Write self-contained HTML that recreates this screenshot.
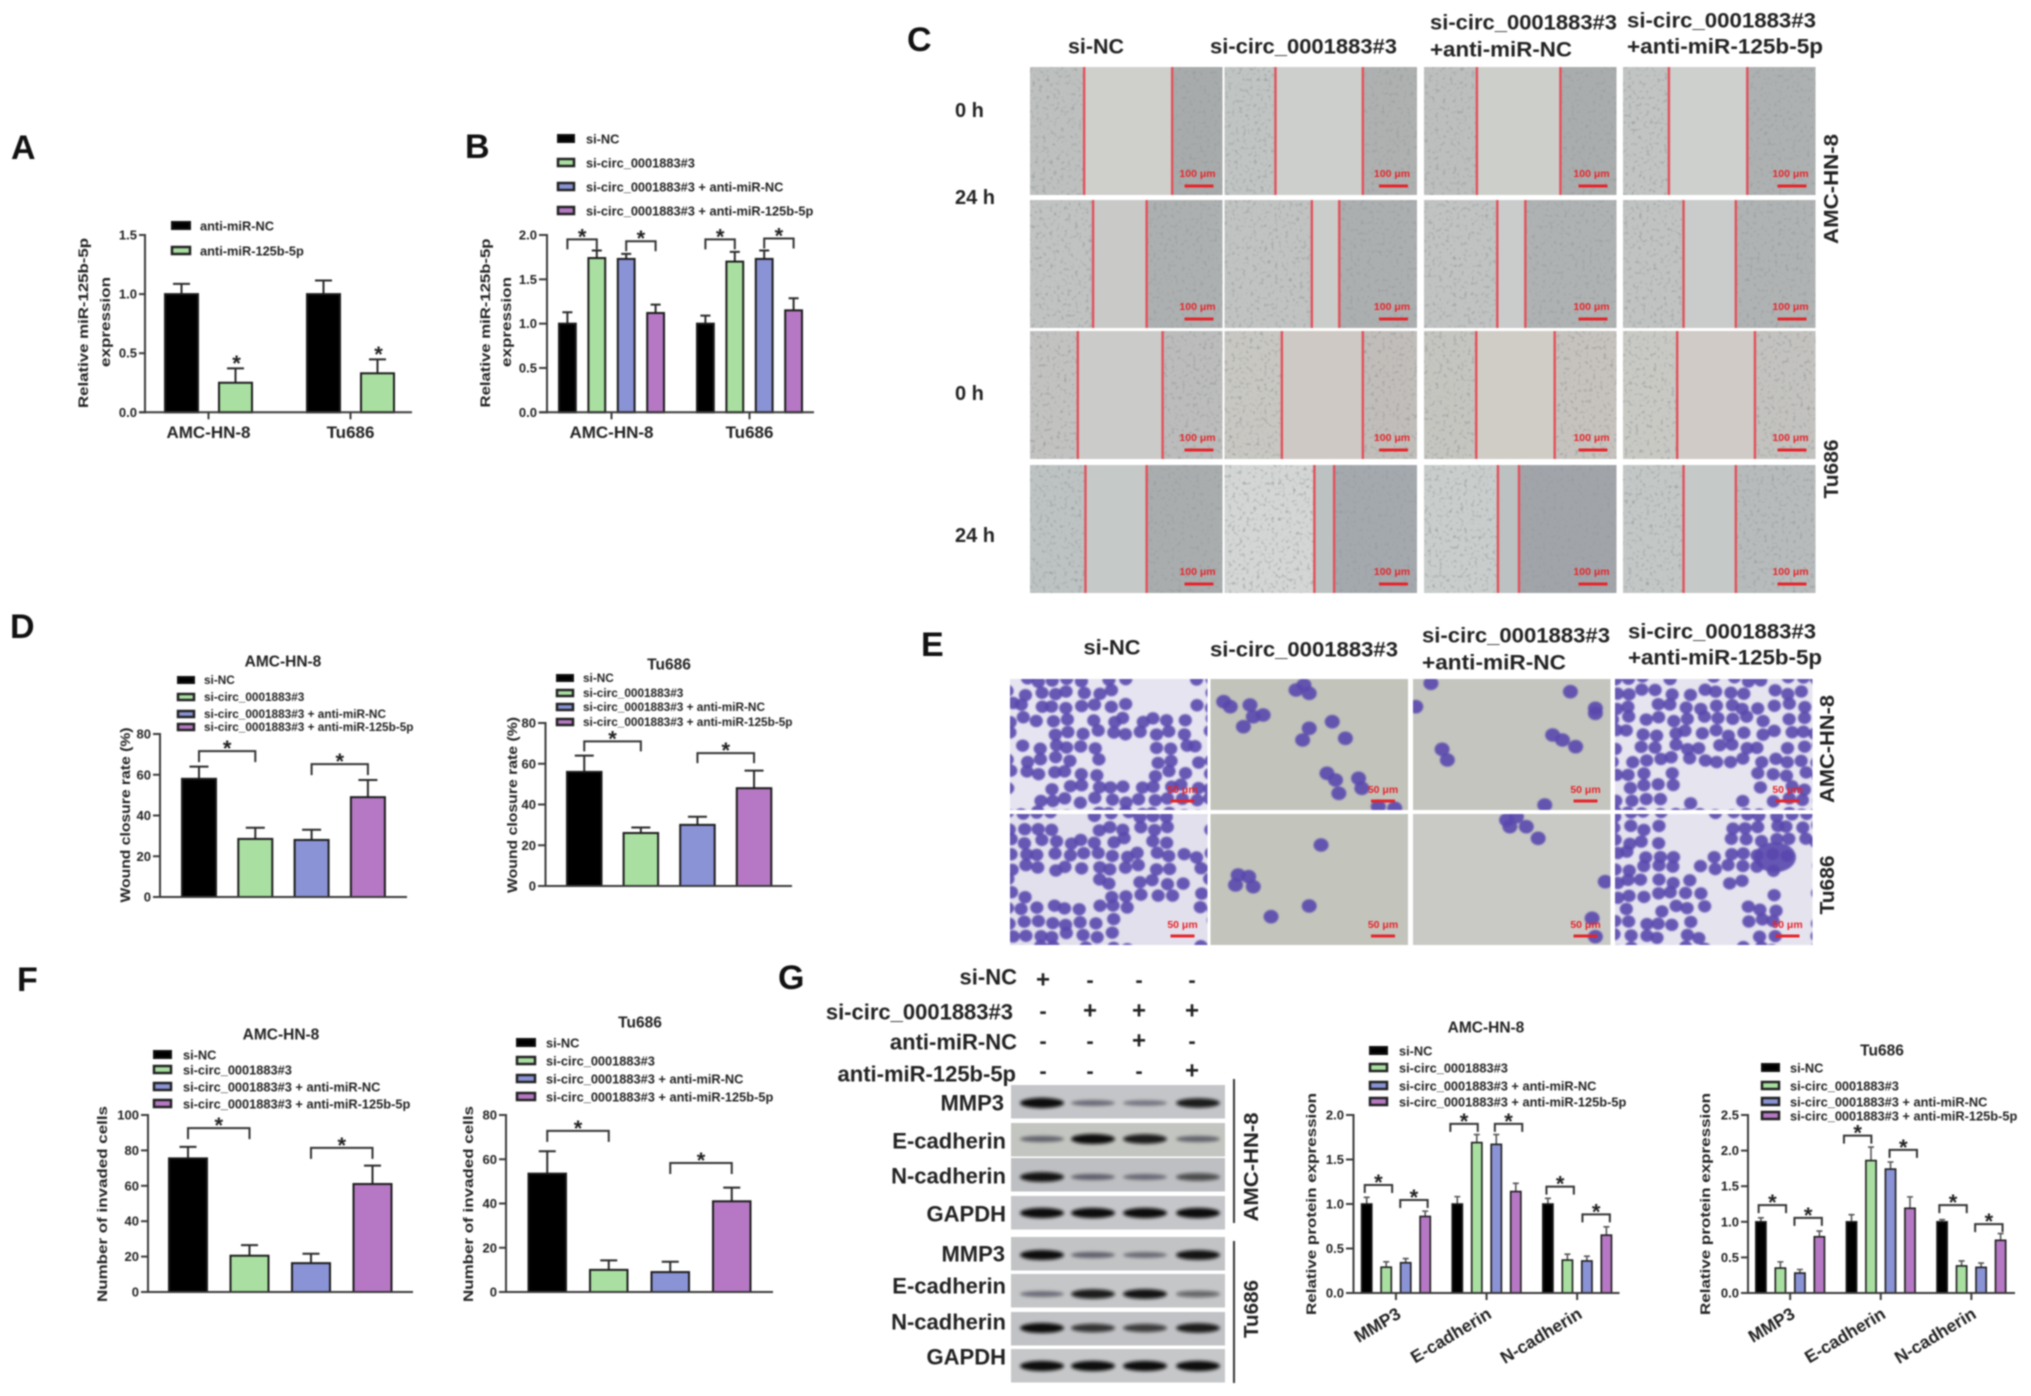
<!DOCTYPE html>
<html lang="en">
<head>
<meta charset="utf-8">
<title>Multi-panel figure: si-circ_0001883#3 and miR-125b-5p</title>
<style>
html,body{margin:0;padding:0;background:#fff}
svg#figure{display:block;filter:blur(.7px)}
text{font-family:"Liberation Sans",sans-serif;font-weight:700;fill:#222;dominant-baseline:central}
.panel{font-size:34px;fill:#111}
.head{font-size:21px}
.rowl{font-size:20px}
.side{font-size:20px}
.ytitle{font-size:14px;text-anchor:middle}
.title{font-size:15.5px;text-anchor:middle}
.l13{font-size:12.8px}
.l12{font-size:11.8px}
.blot{font-size:22px;text-anchor:end}
.s0{fill:#000;stroke:#111;stroke-width:2}
.s1{fill:#a9e0a1;stroke:#222;stroke-width:2.5}
.s2{fill:#8a93d6;stroke:#222;stroke-width:2.5}
.s3{fill:#b678c4;stroke:#222;stroke-width:2.5}
</style>
</head>
<body>
<svg id="figure" xmlns="http://www.w3.org/2000/svg" width="2031" height="1396" viewBox="0 0 2031 1396">
<defs>
<filter id="speck" x="0" y="0" width="100%" height="100%">
<feTurbulence type="fractalNoise" baseFrequency="0.28" numOctaves="2" seed="4"/>
<feColorMatrix type="matrix" values="0 0 0 0 .3  0 0 0 0 .32  0 0 0 0 .33  2.4 0 0 0 -1.3"/>
</filter>
<filter id="bandBlur" x="-20%" y="-80%" width="140%" height="260%"><feGaussianBlur stdDeviation="1.6"/></filter>
<filter id="cellBlur" x="-10%" y="-10%" width="120%" height="120%"><feGaussianBlur stdDeviation="0.9"/></filter>
</defs>
<rect width="2031" height="1396" fill="#fff"/>

<!-- panel letters -->
<text class="panel" x="11" y="148">A</text>
<text class="panel" x="465" y="147">B</text>
<text class="panel" x="907" y="40">C</text>
<text class="panel" x="10" y="627">D</text>
<text class="panel" x="921" y="645">E</text>
<text class="panel" x="17" y="980">F</text>
<text class="panel" x="778" y="978">G</text>

<!-- panel A text -->
<text class="ytitle" transform="translate(83,323) rotate(-90)" textLength="170" lengthAdjust="spacingAndGlyphs">Relative miR-125b-5p</text>
<text class="ytitle" transform="translate(105,322) rotate(-90)" textLength="90" lengthAdjust="spacingAndGlyphs">expression</text>
<g>
<rect class="s0" x="172" y="222" width="18" height="7"/>
<text class="l13" x="200" y="226">anti-miR-NC</text>
<rect class="s1" x="172" y="247" width="18" height="7"/>
<text class="l13" x="200" y="251">anti-miR-125b-5p</text>
</g>

<!-- panel B text -->
<text class="ytitle" transform="translate(485,323) rotate(-90)" textLength="169" lengthAdjust="spacingAndGlyphs">Relative miR-125b-5p</text>
<text class="ytitle" transform="translate(506,322) rotate(-90)" textLength="90" lengthAdjust="spacingAndGlyphs">expression</text>
<g>
<rect class="s0" x="558" y="135" width="16" height="7"/>
<text class="l13" x="586" y="139">si-NC</text>
<rect class="s1" x="558" y="159" width="16" height="7"/>
<text class="l13" x="586" y="163">si-circ_0001883#3</text>
<rect class="s2" x="558" y="183" width="16" height="7"/>
<text class="l13" x="586" y="187">si-circ_0001883#3 + anti-miR-NC</text>
<rect class="s3" x="558" y="207" width="16" height="7"/>
<text class="l13" x="586" y="211">si-circ_0001883#3 + anti-miR-125b-5p</text>
</g>

<!-- panel C text -->
<text class="head" x="1096" y="47" text-anchor="middle" textLength="56" lengthAdjust="spacingAndGlyphs">si-NC</text>
<text class="head" x="1210" y="47" textLength="187" lengthAdjust="spacingAndGlyphs">si-circ_0001883#3</text>
<text class="head" x="1430" y="23" textLength="187" lengthAdjust="spacingAndGlyphs">si-circ_0001883#3</text>
<text class="head" x="1430" y="50" textLength="142" lengthAdjust="spacingAndGlyphs">+anti-miR-NC</text>
<text class="head" x="1627" y="21" textLength="189" lengthAdjust="spacingAndGlyphs">si-circ_0001883#3</text>
<text class="head" x="1627" y="47" textLength="196" lengthAdjust="spacingAndGlyphs">+anti-miR-125b-5p</text>
<text class="rowl" x="955" y="111">0 h</text>
<text class="rowl" x="955" y="198">24 h</text>
<text class="rowl" x="955" y="394">0 h</text>
<text class="rowl" x="955" y="536">24 h</text>
<text class="side" text-anchor="middle" transform="translate(1832,189) rotate(-90)" textLength="110" lengthAdjust="spacingAndGlyphs">AMC-HN-8</text>
<text class="side" text-anchor="middle" transform="translate(1832,469) rotate(-90)" textLength="59" lengthAdjust="spacingAndGlyphs">Tu686</text>

<!-- panel D text -->
<text class="title" x="283" y="662">AMC-HN-8</text>
<text class="ytitle" transform="translate(125,815) rotate(-90)" textLength="175" lengthAdjust="spacingAndGlyphs">Wound closure rate (%)</text>
<g>
<rect class="s0" x="178" y="677" width="16" height="6"/>
<text class="l12" x="204" y="680">si-NC</text>
<rect class="s1" x="178" y="694" width="16" height="6"/>
<text class="l12" x="204" y="697">si-circ_0001883#3</text>
<rect class="s2" x="178" y="711" width="16" height="6"/>
<text class="l12" x="204" y="714">si-circ_0001883#3 + anti-miR-NC</text>
<rect class="s3" x="178" y="724" width="16" height="6"/>
<text class="l12" x="204" y="727">si-circ_0001883#3 + anti-miR-125b-5p</text>
</g>
<text class="title" x="669" y="665">Tu686</text>
<text class="ytitle" transform="translate(512,805) rotate(-90)" textLength="176" lengthAdjust="spacingAndGlyphs">Wound closure rate (%)</text>
<g>
<rect class="s0" x="557" y="675" width="16" height="6"/>
<text class="l12" x="583" y="678">si-NC</text>
<rect class="s1" x="557" y="690" width="16" height="6"/>
<text class="l12" x="583" y="693">si-circ_0001883#3</text>
<rect class="s2" x="557" y="704" width="16" height="6"/>
<text class="l12" x="583" y="707">si-circ_0001883#3 + anti-miR-NC</text>
<rect class="s3" x="557" y="719" width="16" height="6"/>
<text class="l12" x="583" y="722">si-circ_0001883#3 + anti-miR-125b-5p</text>
</g>

<!-- panel E text -->
<text class="head" x="1112" y="648" text-anchor="middle" textLength="57" lengthAdjust="spacingAndGlyphs">si-NC</text>
<text class="head" x="1210" y="650" textLength="188" lengthAdjust="spacingAndGlyphs">si-circ_0001883#3</text>
<text class="head" x="1422" y="636" textLength="188" lengthAdjust="spacingAndGlyphs">si-circ_0001883#3</text>
<text class="head" x="1422" y="663" textLength="144" lengthAdjust="spacingAndGlyphs">+anti-miR-NC</text>
<text class="head" x="1628" y="632" textLength="188" lengthAdjust="spacingAndGlyphs">si-circ_0001883#3</text>
<text class="head" x="1628" y="658" textLength="194" lengthAdjust="spacingAndGlyphs">+anti-miR-125b-5p</text>
<text class="side" text-anchor="middle" transform="translate(1828,749) rotate(-90)" textLength="108" lengthAdjust="spacingAndGlyphs">AMC-HN-8</text>
<text class="side" text-anchor="middle" transform="translate(1828,885) rotate(-90)" textLength="59" lengthAdjust="spacingAndGlyphs">Tu686</text>

<!-- panel F text -->
<text class="title" x="281" y="1035">AMC-HN-8</text>
<text class="ytitle" transform="translate(102,1204) rotate(-90)" textLength="196" lengthAdjust="spacingAndGlyphs">Number of invaded cells</text>
<g>
<rect class="s0" x="154" y="1051" width="17" height="7"/>
<text class="l13" x="183" y="1055">si-NC</text>
<rect class="s1" x="154" y="1066" width="17" height="7"/>
<text class="l13" x="183" y="1070">si-circ_0001883#3</text>
<rect class="s2" x="154" y="1083" width="17" height="7"/>
<text class="l13" x="183" y="1087">si-circ_0001883#3 + anti-miR-NC</text>
<rect class="s3" x="154" y="1100" width="17" height="7"/>
<text class="l13" x="183" y="1104">si-circ_0001883#3 + anti-miR-125b-5p</text>
</g>
<text class="title" x="640" y="1023">Tu686</text>
<text class="ytitle" transform="translate(468,1204) rotate(-90)" textLength="196" lengthAdjust="spacingAndGlyphs">Number of invaded cells</text>
<g>
<rect class="s0" x="517" y="1039" width="18" height="7"/>
<text class="l13" x="546" y="1043">si-NC</text>
<rect class="s1" x="517" y="1057" width="18" height="7"/>
<text class="l13" x="546" y="1061">si-circ_0001883#3</text>
<rect class="s2" x="517" y="1075" width="18" height="7"/>
<text class="l13" x="546" y="1079">si-circ_0001883#3 + anti-miR-NC</text>
<rect class="s3" x="517" y="1093" width="18" height="7"/>
<text class="l13" x="546" y="1097">si-circ_0001883#3 + anti-miR-125b-5p</text>
</g>

<!-- panel G blot labels -->
<text class="blot" x="1017" y="977">si-NC</text>
<text class="blot" x="1013" y="1012">si-circ_0001883#3</text>
<text class="blot" x="1017" y="1042">anti-miR-NC</text>
<text class="blot" x="1016" y="1074">anti-miR-125b-5p</text>
<text class="blot" x="1004" y="1103">MMP3</text>
<text class="blot" x="1006" y="1141">E-cadherin</text>
<text class="blot" x="1006" y="1176">N-cadherin</text>
<text class="blot" x="1006" y="1214">GAPDH</text>
<text class="blot" x="1005" y="1254">MMP3</text>
<text class="blot" x="1006" y="1286">E-cadherin</text>
<text class="blot" x="1006" y="1322">N-cadherin</text>
<text class="blot" x="1006" y="1357">GAPDH</text>
<line x1="1234" y1="1079" x2="1234" y2="1223" stroke="#333" stroke-width="2"/>
<line x1="1234" y1="1241" x2="1234" y2="1383" stroke="#333" stroke-width="2"/>
<text class="side" text-anchor="middle" transform="translate(1252,1167) rotate(-90)" textLength="109" lengthAdjust="spacingAndGlyphs">AMC-HN-8</text>
<text class="side" text-anchor="middle" transform="translate(1252,1309) rotate(-90)" textLength="58" lengthAdjust="spacingAndGlyphs">Tu686</text>

<!-- panel G chart text -->
<text class="title" x="1486" y="1028">AMC-HN-8</text>
<text class="ytitle" transform="translate(1311,1204) rotate(-90)" textLength="222" lengthAdjust="spacingAndGlyphs">Relative protein expression</text>
<g>
<rect class="s0" x="1370" y="1047" width="17" height="7"/>
<text class="l13" x="1399" y="1051">si-NC</text>
<rect class="s1" x="1370" y="1064" width="17" height="7"/>
<text class="l13" x="1399" y="1068">si-circ_0001883#3</text>
<rect class="s2" x="1370" y="1082" width="17" height="7"/>
<text class="l13" x="1399" y="1086">si-circ_0001883#3 + anti-miR-NC</text>
<rect class="s3" x="1370" y="1098" width="17" height="7"/>
<text class="l13" x="1399" y="1102">si-circ_0001883#3 + anti-miR-125b-5p</text>
</g>
<text class="title" x="1882" y="1051">Tu686</text>
<text class="ytitle" transform="translate(1705,1204) rotate(-90)" textLength="222" lengthAdjust="spacingAndGlyphs">Relative protein expression</text>
<g>
<rect class="s0" x="1762" y="1064" width="17" height="7"/>
<text class="l13" x="1790" y="1068">si-NC</text>
<rect class="s1" x="1762" y="1082" width="17" height="7"/>
<text class="l13" x="1790" y="1086">si-circ_0001883#3</text>
<rect class="s2" x="1762" y="1098" width="17" height="7"/>
<text class="l13" x="1790" y="1102">si-circ_0001883#3 + anti-miR-NC</text>
<rect class="s3" x="1762" y="1112" width="17" height="7"/>
<text class="l13" x="1790" y="1116">si-circ_0001883#3 + anti-miR-125b-5p</text>
</g>

<g id="layer-images"></g>
<g id="layer-charts"></g>
</svg>

<script>
/* ---------- chart data ---------- */
const cellLineCategories = ['AMC-HN-8', 'Tu686'];
const proteinCategories = ['MMP3', 'E-cadherin', 'N-cadherin'];

const panelAYTicks = ['0.0', '0.5', '1.0', '1.5'];
const panelAMeans = [[1.0, 0.25], [1.0, 0.33]];
const panelAUpper = [[1.086, 0.372], [1.115, 0.448]];
const panelAStars = [[1, 0.45], [3, 0.527]];

const panelBYTicks = ['0.0', '0.5', '1.0', '1.5', '2.0'];
const panelBMeans = [[1.0, 1.74, 1.73, 1.12], [1.0, 1.70, 1.73, 1.15]];
const panelBUpper = [[1.128, 1.825, 1.787, 1.215], [1.09, 1.81, 1.825, 1.287]];
const panelBBrackets = [[0, 1, 1.95, 0], [2, 3, 1.93, 0], [4, 5, 1.95, 0], [6, 7, 1.96, 0]];

const panelDYTicks = ['0', '20', '40', '60', '80'];
const panelDAmcMeans = [[58, 28.5, 28, 49]];
const panelDAmcUpper = [[64, 34, 33, 57.4]];
const panelDAmcBrackets = [[0, 1, 71.6, 0], [2, 3, 65.2, 0]];
const panelDTuMeans = [[56, 26, 30, 48]];
const panelDTuUpper = [[64, 28.7, 34, 56.6]];
const panelDTuBrackets = [[0, 1, 71, 0], [2, 3, 65.2, 0]];

const panelFAmcYTicks = ['0', '20', '40', '60', '80', '100'];
const panelFAmcMeans = [[75.5, 20.5, 16.3, 61]];
const panelFAmcUpper = [[82, 26.5, 21.6, 71.4]];
const panelFAmcBrackets = [[0, 1, 92.6, 0], [2, 3, 81.4, 0]];
const panelFTuYTicks = ['0', '20', '40', '60', '80'];
const panelFTuMeans = [[53.5, 10, 9, 41]];
const panelFTuUpper = [[63.6, 14.3, 13.7, 47.2]];
const panelFTuBrackets = [[0, 1, 72.8, 0], [2, 3, 58.3, 0]];

const panelGAmcYTicks = ['0.0', '0.5', '1.0', '1.5', '2.0'];
const panelGAmcMeans = [[1.0, 0.29, 0.34, 0.86], [1.0, 1.69, 1.67, 1.14], [1.0, 0.37, 0.36, 0.65]];
const panelGAmcUpper = [[1.075, 0.35, 0.387, 0.92], [1.083, 1.78, 1.78, 1.233], [1.064, 0.436, 0.414, 0.744]];
const panelGAmcBrackets = [[0, 1, 1.214, 2], [2, 3, 1.045, -1.5], [4, 5, 1.90, -3], [6, 7, 1.90, 2.5], [8, 9, 1.195, 2.5], [10, 11, 0.883, -0.5]];
const panelGTuYTicks = ['0.0', '0.5', '1.0', '1.5', '2.0', '2.5'];
const panelGTuMeans = [[1.0, 0.35, 0.28, 0.79], [1.0, 1.86, 1.74, 1.19], [1.0, 0.38, 0.36, 0.74]];
const panelGTuUpper = [[1.056, 0.437, 0.33, 0.87], [1.10, 2.05, 1.84, 1.35], [1.03, 0.45, 0.42, 0.835]];
const panelGTuBrackets = [[0, 1, 1.235, 1.7], [2, 3, 1.056, -1.5], [4, 5, 2.21, -3.6], [6, 7, 2.01, 3], [8, 9, 1.235, 1.2], [10, 11, 0.967, -2]];

const seriesColors = ['#000000', '#a9e0a1', '#8a93d6', '#b678c4'];
const twoSeriesColors = ['#000000', '#a9e0a1'];

/* ---------- blot and wound readings ---------- */
const treatmentRows = [['+', '-', '-', '-'], ['-', '+', '+', '+'], ['-', '-', '+', '-'], ['-', '-', '-', '+']];
const blotIntensity = [
  [1.0, 0.3, 0.25, 0.85], [0.35, 0.95, 0.85, 0.35], [0.9, 0.35, 0.3, 0.55], [0.98, 0.98, 0.98, 0.98],
  [0.95, 0.35, 0.3, 0.9], [0.3, 0.85, 0.9, 0.4], [0.95, 0.7, 0.65, 0.85], [0.98, 0.98, 0.98, 0.98]
];
const woundEdges = [
  [[85, 223], [80, 217], [83, 214], [72, 195]],
  [[99, 183], [137, 180], [115, 159], [95, 177]],
  [[75, 208], [90, 217], [82, 205], [85, 207]],
  [[87, 183], [141, 172], [116, 149], [95, 177]]
];

/* ---------- helpers ---------- */
const NS = 'http://www.w3.org/2000/svg';
const chartLayer = document.getElementById('layer-charts');
const imageLayer = document.getElementById('layer-images');
function mk(tag, attrs, parent) {
  const node = document.createElementNS(NS, tag);
  Object.keys(attrs).forEach(function (k) { node.setAttribute(k, attrs[k]); });
  parent.appendChild(node);
  return node;
}
function hash(a, b) {
  const s = Math.sin(a * 12.9898 + b * 78.233) * 43758.5453;
  return s - Math.floor(s);
}

/* ---------- bar chart ---------- */
function drawChart(cfg, yTicks, means, upper, colors, categories, brackets, stars) {
  const g = mk('g', {}, chartLayer);
  
  
  const yMax = Number(yTicks[yTicks.length - 1]);
  const yScale = function (v) { return cfg.bottom - (v / yMax) * (cfg.bottom - cfg.top); };
  const barX = function (group, s) { return cfg.barLeft + group * cfg.groupStep + s * cfg.barStep; };
  const nSeries = means[0].length;
  const flatCenter = function (idx) {
    const group = Math.floor(idx / nSeries);
    return barX(group, idx - group * nSeries) + cfg.barW / 2;
  };
  const sw = cfg.stroke || 2;

  means.forEach(function (groupVals, gi) {
    groupVals.forEach(function (v, si) {
      const x = barX(gi, si);
      const yTop = yScale(v);
      const cx = x + cfg.barW / 2;
      const eb = mk('path', {
        d: 'M' + cx + ' ' + yTop + 'V' + yScale(upper[gi][si]) + 'm' + (-cfg.capW / 2) + ' 0h' + cfg.capW,
        fill: 'none', stroke: cfg.errColor || '#2a2a2a', 'stroke-width': sw
      }, g);
      
      
      const bar = mk('rect', {
        x: x + sw / 2, y: yTop, width: cfg.barW - sw, height: cfg.bottom - yTop,
        fill: colors[si], stroke: '#1c1c1c', 'stroke-width': sw
      }, g);
      
      
    });
  });

  const yAxis = mk('line', { x1: cfg.axisX, x2: cfg.axisX, y1: cfg.top - 1, y2: cfg.bottom + 1, stroke: '#3a3a3a', 'stroke-width': 2 }, g);
  
  
  const xAxis = mk('line', { x1: cfg.axisLeft, x2: cfg.axisRight, y1: cfg.bottom, y2: cfg.bottom, stroke: '#3a3a3a', 'stroke-width': 2 }, g);
  
  

  yTicks.forEach(function (label) {
    const y = yScale(Number(label));
    const tick = mk('line', { x1: cfg.axisLeft, x2: cfg.axisX, y1: y, y2: y, stroke: '#3a3a3a', 'stroke-width': 2 }, g);
    
    
    const t = mk('text', { x: cfg.axisLeft - 2, y: y, 'text-anchor': 'end', 'font-size': 13, fill: '#333' }, g);
    t.textContent = label;
    
    
  });

  categories.forEach(function (cat, gi) {
    const cx = (barX(gi, 0) + barX(gi, nSeries - 1) + cfg.barW) / 2;
    const tick = mk('line', { x1: cx, x2: cx, y1: cfg.bottom, y2: cfg.bottom + 7, stroke: '#3a3a3a', 'stroke-width': 2 }, g);
    
    
    const t = cfg.rotate
      ? mk('text', { 'text-anchor': 'end', 'font-size': 17.5, transform: 'translate(' + (cx + 3) + ',' + (cfg.bottom + 19) + ') rotate(-31)' }, g)
      : mk('text', { x: cx, y: cfg.bottom + 20, 'text-anchor': 'middle', 'font-size': 17 }, g);
    t.textContent = cat;
    
    
  });

  (brackets || []).forEach(function (b) {
    const xa = flatCenter(b[0]);
    const xb = flatCenter(b[1]);
    const mid = (xa + xb) / 2 + b[3];
    const half = cfg.bracketHalf || (xb - xa) / 2;
    const y = yScale(b[2]);
    const leg = cfg.leg || 10;
    const br = mk('path', {
      d: 'M' + (mid - half) + ' ' + (y + leg) + 'V' + y + 'H' + (mid + half) + 'V' + (y + leg),
      fill: 'none', stroke: '#333', 'stroke-width': cfg.bracketStroke || 2
    }, g);
    
    
    const star = mk('text', { x: mid, y: y - 7, 'text-anchor': 'middle', 'font-size': 22, style: 'dominant-baseline:auto', dy: 12 }, g);
    star.textContent = '*';
    
    
  });

  (stars || []).forEach(function (s) {
    const star = mk('text', { x: flatCenter(s[0]) + 1, y: yScale(s[1]), 'text-anchor': 'middle', 'font-size': 22, style: 'dominant-baseline:auto', dy: 12 }, g);
    star.textContent = '*';
    
    
  });
}

drawChart({ name: 'panel-a', axisX: 145, axisLeft: 139, axisRight: 412, bottom: 412.3, top: 235, barLeft: 164, barW: 35, barStep: 54, groupStep: 142, capW: 17 },
  panelAYTicks, panelAMeans, panelAUpper, twoSeriesColors, cellLineCategories, [], panelAStars);
drawChart({ name: 'panel-b', axisX: 547, axisLeft: 539, axisRight: 814, bottom: 412.3, top: 235, barLeft: 558, barW: 18.8, barStep: 29.4, groupStep: 138, capW: 10 },
  panelBYTicks, panelBMeans, panelBUpper, seriesColors, cellLineCategories, panelBBrackets);
drawChart({ name: 'panel-d-amc', axisX: 160, axisLeft: 153, axisRight: 407, bottom: 897, top: 734, barLeft: 181, barW: 36, barStep: 56.3, groupStep: 0, capW: 19, leg: 11 },
  panelDYTicks, panelDAmcMeans, panelDAmcUpper, seriesColors, [], panelDAmcBrackets);
drawChart({ name: 'panel-d-tu686', axisX: 545.5, axisLeft: 538, axisRight: 792, bottom: 886, top: 723, barLeft: 566, barW: 36.5, barStep: 56.6, groupStep: 0, capW: 19, leg: 10 },
  panelDYTicks, panelDTuMeans, panelDTuUpper, seriesColors, [], panelDTuBrackets);
drawChart({ name: 'panel-f-amc', axisX: 148, axisLeft: 141, axisRight: 413, bottom: 1292, top: 1115, barLeft: 168, barW: 40, barStep: 61.5, groupStep: 0, capW: 17, leg: 11 },
  panelFAmcYTicks, panelFAmcMeans, panelFAmcUpper, seriesColors, [], panelFAmcBrackets);
drawChart({ name: 'panel-f-tu686', axisX: 506, axisLeft: 499, axisRight: 773, bottom: 1292, top: 1115, barLeft: 527.5, barW: 39.5, barStep: 61.5, groupStep: 0, capW: 17, leg: 11 },
  panelFTuYTicks, panelFTuMeans, panelFTuUpper, seriesColors, [], panelFTuBrackets);
drawChart({ name: 'panel-g-amc', axisX: 1353.5, axisLeft: 1346, axisRight: 1619.5, bottom: 1293, top: 1115, barLeft: 1360.8, barW: 11.8, barStep: 19.5, groupStep: 90.6, capW: 6, stroke: 1.6, errColor: '#555', rotate: true, bracketHalf: 13.7, leg: 8 },
  panelGAmcYTicks, panelGAmcMeans, panelGAmcUpper, seriesColors, proteinCategories, panelGAmcBrackets);
drawChart({ name: 'panel-g-tu686', axisX: 1748, axisLeft: 1741, axisRight: 2015, bottom: 1293, top: 1115, barLeft: 1755, barW: 11.8, barStep: 19.5, groupStep: 90.6, capW: 6, stroke: 1.6, errColor: '#555', rotate: true, bracketHalf: 13.7, leg: 8 },
  panelGTuYTicks, panelGTuMeans, panelGTuUpper, seriesColors, proteinCategories, panelGTuBrackets);

/* ---------- panel C wound images ---------- */
const woundColX = [1030, 1224.5, 1424, 1623];
const woundRowY = [67, 200, 331, 465];
const woundPalette = [
  [['#bdc0be', '#cfd0cc', '#a8abab'], ['#c0c4c2', '#cdcfcc', '#aeb1b0'], ['#bcbfbd', '#cdcfcb', '#aaadad'], ['#c1c4c3', '#cdd0cd', '#aeb1b1']],
  [['#c0c3c1', '#c9cac8', '#adb0b0'], ['#c0c3c1', '#cbcdca', '#acafb0'], ['#c0c3c2', '#c9ccca', '#afb2b2'], ['#c0c3c2', '#c9ccca', '#b0b3b3']],
  [['#c2c3c1', '#cbcbc9', '#bbbcbb'], ['#c8c7c2', '#cfc9c5', '#c1beba'], ['#c5c5c0', '#d0ccc6', '#c6c3be'], ['#c9c9c4', '#d0cbc6', '#c3c2bf']],
  [['#bdc3c3', '#c5c9c7', '#a9adae'], ['#d3d6d5', '#bcc1c1', '#a4a9ae'], ['#c9cdcc', '#bcc1c1', '#a1a5aa'], ['#c3c7c6', '#c5c9c8', '#b7bbbb']]
];
woundEdges.forEach(function (row, ri) {
  row.forEach(function (edges, ci) {
    const x = woundColX[ci];
    const y = woundRowY[ri];
    const w = 192.5;
    const h = 128;
    const xl = x + edges[0] / 302 * w;
    const xr = x + edges[1] / 302 * w;
    const pal = woundPalette[ri][ci];
    const left = mk('rect', { x: x, y: y, width: xl - x, height: h, fill: pal[0] }, imageLayer);
    
    
    const gap = mk('rect', { x: xl, y: y, width: xr - xl, height: h, fill: pal[1] }, imageLayer);
    
    
    const right = mk('rect', { x: xr, y: y, width: x + w - xr, height: h, fill: pal[2] }, imageLayer);
    
    
    [[x, xl - x], [xr, x + w - xr]].forEach(function (zone) {
      const noise = mk('rect', { x: zone[0], y: y, width: zone[1], height: h, fill: '#000', filter: 'url(#speck)' }, imageLayer);
      
      
    });
    edges.forEach(function (e) {
      const lx = x + e / 302 * w;
      const redLine = mk('line', { x1: lx, x2: lx, y1: y, y2: y + h, stroke: '#e2505a', 'stroke-width': 2.4 }, imageLayer);
      
      
    });
    const sbText = mk('text', { x: x + w - 25, y: y + h - 21, 'text-anchor': 'middle', 'font-size': 10.5, style: 'fill:#e5242a' }, imageLayer);
    sbText.textContent = '100 μm';
    
    
    const sbBar = mk('rect', { x: x + w - 38, y: y + h - 10.5, width: 29, height: 3, fill: '#e5242a' }, imageLayer);
    
    
  });
});

/* ---------- panel E invasion images ---------- */
const invColX = [1010, 1210.5, 1413, 1615];
const invRowY = [679, 814];
const invW = 197.5;
const invH = 131;
const invBg = [['#e6e4f0', '#c2c3bb', '#c4c5be', '#e6e4ef'], ['#e2e0ec', '#c3c4bc', '#c9cac5', '#e5e3ee']];
const sparseCells = {
  '0-1': [[462,225],[470,250],[450,240],[340,275],[350,290],[380,285],[400,315],[385,320],[370,350],[470,355],[505,335],[525,385],[460,390],[497,490],[510,510],[545,505],[515,550],[550,535],[575,590],[600,595]],
  '0-2': [[655,220],[632,290],[867,245],[905,295],[905,310],[840,375],[855,390],[875,410],[672,418],[680,450],[828,585]],
  '1-1': [[488,705],[362,795],[378,800],[358,825],[385,830],[470,888],[412,920]],
  '1-2': [[770,630],[785,620],[800,650],[775,650],[818,685],[920,815],[900,925],[905,980]]
};
const denseHoles = {
  '0-0': [[.77,.1,.2,.16],[.58,.6,.13,.16],[.05,.92,.1,.1]],
  '1-0': [[.3,.06,.1,.1],[.22,.55,.2,.1],[.92,.08,.1,.16],[.78,.88,.22,.2]],
  '0-3': [[.52,.8,.2,.16],[.05,.05,.05,.05]],
  '1-3': [[.4,.15,.15,.2],[.55,.82,.1,.3],[.92,.7,.1,.42],[.7,.55,.06,.12]]
};
invRowY.forEach(function (y, ri) {
  invColX.forEach(function (x, ci) {
    const key = ri + '-' + ci;
    const frame = mk('svg', { x: x, y: y, width: invW, height: invH, viewBox: x + ' ' + y + ' ' + invW + ' ' + invH }, imageLayer);
    
    
    const bg = mk('rect', { x: x, y: y, width: invW, height: invH, fill: invBg[ri][ci] }, frame);
    
    
    const cells = mk('g', { filter: 'url(#cellBlur)' }, frame);
    
    
    const addCell = function (cx, cy, rx, ry) {
      const dot = mk('ellipse', { cx: cx, cy: cy, rx: rx, ry: ry, fill: '#5a48ae', 'fill-opacity': 0.9 }, cells);
      
      
    };
    if (sparseCells[key]) {
      sparseCells[key].forEach(function (c) {
        addCell(1000 + c[0] / 1.52, 610 + c[1] / 3, 7.5, 6.8);
      });
    } else {
      const holes = denseHoles[key];
      for (let gy = 0; gy < invH + 8; gy += 13.5) {
        for (let gx = 0; gx < invW + 8; gx += 14.5) {
          const fx = (gx + (hash(gx + ci, gy + ri) - .5) * 7) / invW;
          const fy = (gy + (hash(gy + ci * 3, gx + ri * 7) - .5) * 6) / invH;
          const inHole = holes.some(function (o) {
            const dx = (fx - o[0]) / o[2];
            const dy = (fy - o[1]) / o[3];
            return dx * dx + dy * dy < 1;
          });
          if (!inHole && hash(gx * 3 + ri, gy * 5 + ci) > 0.1) {
            addCell(x + fx * invW, y + fy * invH, 6.6, 6.2);
          }
        }
      }
      if (key === '1-3') {
        addCell(x + .81 * invW, y + .33 * invH, 21, 15);
      }
    }
    const sbText = mk('text', { x: x + invW - 25, y: y + invH - 20, 'text-anchor': 'middle', 'font-size': 10.5, style: 'fill:#e5242a' }, frame);
    sbText.textContent = '50 μm';
    
    
    const sbBar = mk('rect', { x: x + invW - 37, y: y + invH - 10.5, width: 24, height: 3, fill: '#e5242a' }, frame);
    
    
  });
});

/* ---------- panel G blots ---------- */
const treatColX = [1043, 1090, 1139, 1192];
const treatRowY = [980, 1011, 1041, 1071];
treatmentRows.forEach(function (row, ri) {
  row.forEach(function (sym, ci) {
    const t = mk('text', { x: treatColX[ci], y: treatRowY[ri], 'text-anchor': 'middle', 'font-size': sym === '+' ? 24 : 22 }, imageLayer);
    t.textContent = sym;
    
    
  });
});
const blotRowY = [1085, 1123, 1158, 1196, 1237, 1274, 1312, 1349];
const blotBandY = [1103, 1139, 1177, 1213, 1255, 1294, 1328, 1366];
const blotBandX = [1042, 1093, 1145, 1198];
const blotBg = ['#c3c5c8', '#c3c5c1', '#bebfc2', '#c5c6c9', '#c2c3c5', '#c4c6c8', '#c1c2c5', '#c6c7c9'];
blotIntensity.forEach(function (row, ri) {
  const strip = mk('rect', { x: 1011, y: blotRowY[ri], width: 214, height: 33.5, fill: blotBg[ri] }, imageLayer);
  
  
  row.forEach(function (level, ci) {
    const band = mk('ellipse', {
      cx: blotBandX[ci], cy: blotBandY[ri], rx: 22, ry: 2 + 3.2 * level,
      fill: '#0d0d10', 'fill-opacity': Math.min(1, 0.2 + level * 0.85), filter: 'url(#bandBlur)'
    }, imageLayer);
    
    
  });
});
</script>
</body>
</html>
